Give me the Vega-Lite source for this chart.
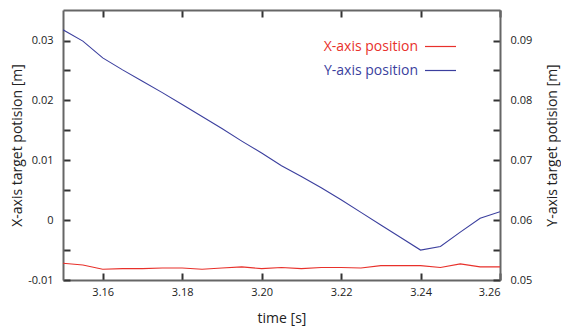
{
  "$schema": "https://vega.github.io/schema/vega-lite/v6.json",
  "autosize": {"type": "none"},
  "padding": {"left": 63, "top": 10, "right": 61, "bottom": 47},
  "width": 437,
  "height": 270,
  "background": "white",
  "config": {
    "view": {"stroke": null},
    "font": "Open Sans",
    "axis": {
      "grid": false,
      "domainColor": "#666666",
      "domainWidth": 2,
      "tickColor": "#333333",
      "tickWidth": 2,
      "tickSize": -7,
      "labelFont": "Open Sans",
      "labelFontSize": 11,
      "labelColor": "#222222",
      "titleFont": "Open Sans",
      "titleFontSize": 14,
      "titleFontWeight": "normal",
      "titleColor": "#222222"
    }
  },
  "data": {
    "values": [
      {"t": 3.150, "series": "X-axis position", "v": -0.0072},
      {"t": 3.155, "series": "X-axis position", "v": -0.0075},
      {"t": 3.160, "series": "X-axis position", "v": -0.0082},
      {"t": 3.165, "series": "X-axis position", "v": -0.0081},
      {"t": 3.170, "series": "X-axis position", "v": -0.0081},
      {"t": 3.175, "series": "X-axis position", "v": -0.0080},
      {"t": 3.180, "series": "X-axis position", "v": -0.0080},
      {"t": 3.185, "series": "X-axis position", "v": -0.0082},
      {"t": 3.190, "series": "X-axis position", "v": -0.0080},
      {"t": 3.195, "series": "X-axis position", "v": -0.0078},
      {"t": 3.200, "series": "X-axis position", "v": -0.0081},
      {"t": 3.205, "series": "X-axis position", "v": -0.0079},
      {"t": 3.210, "series": "X-axis position", "v": -0.0081},
      {"t": 3.215, "series": "X-axis position", "v": -0.0079},
      {"t": 3.220, "series": "X-axis position", "v": -0.0079},
      {"t": 3.225, "series": "X-axis position", "v": -0.0080},
      {"t": 3.230, "series": "X-axis position", "v": -0.0076},
      {"t": 3.235, "series": "X-axis position", "v": -0.0076},
      {"t": 3.240, "series": "X-axis position", "v": -0.0076},
      {"t": 3.245, "series": "X-axis position", "v": -0.0079},
      {"t": 3.250, "series": "X-axis position", "v": -0.0073},
      {"t": 3.255, "series": "X-axis position", "v": -0.0078},
      {"t": 3.260, "series": "X-axis position", "v": -0.0078},
      {"t": 3.150, "series": "Y-axis position", "v": 0.0918},
      {"t": 3.155, "series": "Y-axis position", "v": 0.0899},
      {"t": 3.160, "series": "Y-axis position", "v": 0.0871},
      {"t": 3.165, "series": "Y-axis position", "v": 0.0851},
      {"t": 3.170, "series": "Y-axis position", "v": 0.0832},
      {"t": 3.175, "series": "Y-axis position", "v": 0.0813},
      {"t": 3.180, "series": "Y-axis position", "v": 0.0793},
      {"t": 3.185, "series": "Y-axis position", "v": 0.0773},
      {"t": 3.190, "series": "Y-axis position", "v": 0.0753},
      {"t": 3.195, "series": "Y-axis position", "v": 0.0732},
      {"t": 3.200, "series": "Y-axis position", "v": 0.0712},
      {"t": 3.205, "series": "Y-axis position", "v": 0.0691},
      {"t": 3.210, "series": "Y-axis position", "v": 0.0673},
      {"t": 3.215, "series": "Y-axis position", "v": 0.0654},
      {"t": 3.220, "series": "Y-axis position", "v": 0.0634},
      {"t": 3.225, "series": "Y-axis position", "v": 0.0613},
      {"t": 3.230, "series": "Y-axis position", "v": 0.0592},
      {"t": 3.235, "series": "Y-axis position", "v": 0.0571},
      {"t": 3.240, "series": "Y-axis position", "v": 0.0550},
      {"t": 3.245, "series": "Y-axis position", "v": 0.0556},
      {"t": 3.250, "series": "Y-axis position", "v": 0.0580},
      {"t": 3.255, "series": "Y-axis position", "v": 0.0603},
      {"t": 3.260, "series": "Y-axis position", "v": 0.0614}
    ]
  },
  "encoding": {
    "color": {
      "field": "series",
      "type": "nominal",
      "scale": {"domain": ["X-axis position", "Y-axis position"], "range": ["#e8312b", "#3b3f9e"]},
      "legend": {
        "title": null,
        "orient": "none",
        "legendX": 361,
        "legendY": 20,
        "symbolType": "stroke",
        "symbolSize": 961,
        "symbolStrokeWidth": 1.2,
        "labelAlign": "right",
        "labelOffset": -39,
        "labelFont": "Open Sans",
        "labelFontSize": 14,
        "labelLimit": 300,
        "rowPadding": -2,
        "encode": {
          "labels": {
            "update": {
              "fill": {"signal": "datum.value === 'X-axis position' ? '#e8312b' : '#3b3f9e'"}
            }
          }
        }
      }
    }
  },
  "layer": [
    {
      "transform": [{"filter": "datum.series === 'X-axis position'"}],
      "mark": {"type": "line", "strokeWidth": 1.1, "clip": true},
      "encoding": {
        "x": {
          "field": "t",
          "type": "quantitative",
          "scale": {"domain": [3.15, 3.26], "nice": false, "zero": false},
          "axis": {
            "orient": "bottom",
            "title": "time [s]",
            "values": [3.16, 3.18, 3.2, 3.22, 3.24, 3.26],
            "format": ".2f",
            "labelPadding": 13,
            "titlePadding": 14
          }
        },
        "y": {
          "field": "v",
          "type": "quantitative",
          "scale": {"domain": [-0.01, 0.0351], "nice": false, "zero": false},
          "axis": {
            "orient": "left",
            "title": "X-axis target potision [m]",
            "values": [-0.01, -0.005, 0, 0.005, 0.01, 0.015, 0.02, 0.025, 0.03],
            "labelExpr": "round(datum.value*1000) % 10 == 0 ? toString(datum.value) : ''",
            "labelPadding": 17,
            "titlePadding": 3
          }
        }
      }
    },
    {
      "transform": [{"filter": "datum.series === 'Y-axis position'"}],
      "mark": {"type": "line", "strokeWidth": 1.1, "clip": true},
      "encoding": {
        "x": {
          "field": "t",
          "type": "quantitative",
          "scale": {"domain": [3.15, 3.26], "nice": false, "zero": false},
          "axis": {
            "orient": "top",
            "title": null,
            "values": [3.16, 3.18, 3.2, 3.22, 3.24, 3.26],
            "labels": false
          }
        },
        "y": {
          "field": "v",
          "type": "quantitative",
          "scale": {"domain": [0.05, 0.0951], "nice": false, "zero": false},
          "axis": {
            "orient": "right",
            "title": "Y-axis target potision [m]",
            "titleAngle": 270,
            "titleBaseline": "top",
            "values": [0.05, 0.055, 0.06, 0.065, 0.07, 0.075, 0.08, 0.085, 0.09],
            "labelExpr": "round(datum.value*1000) % 10 == 0 ? toString(datum.value) : ''",
            "labelPadding": 17,
            "titlePadding": 14
          }
        }
      }
    }
  ],
  "resolve": {"scale": {"y": "independent"}, "axis": {"x": "independent", "y": "independent"}}
}
